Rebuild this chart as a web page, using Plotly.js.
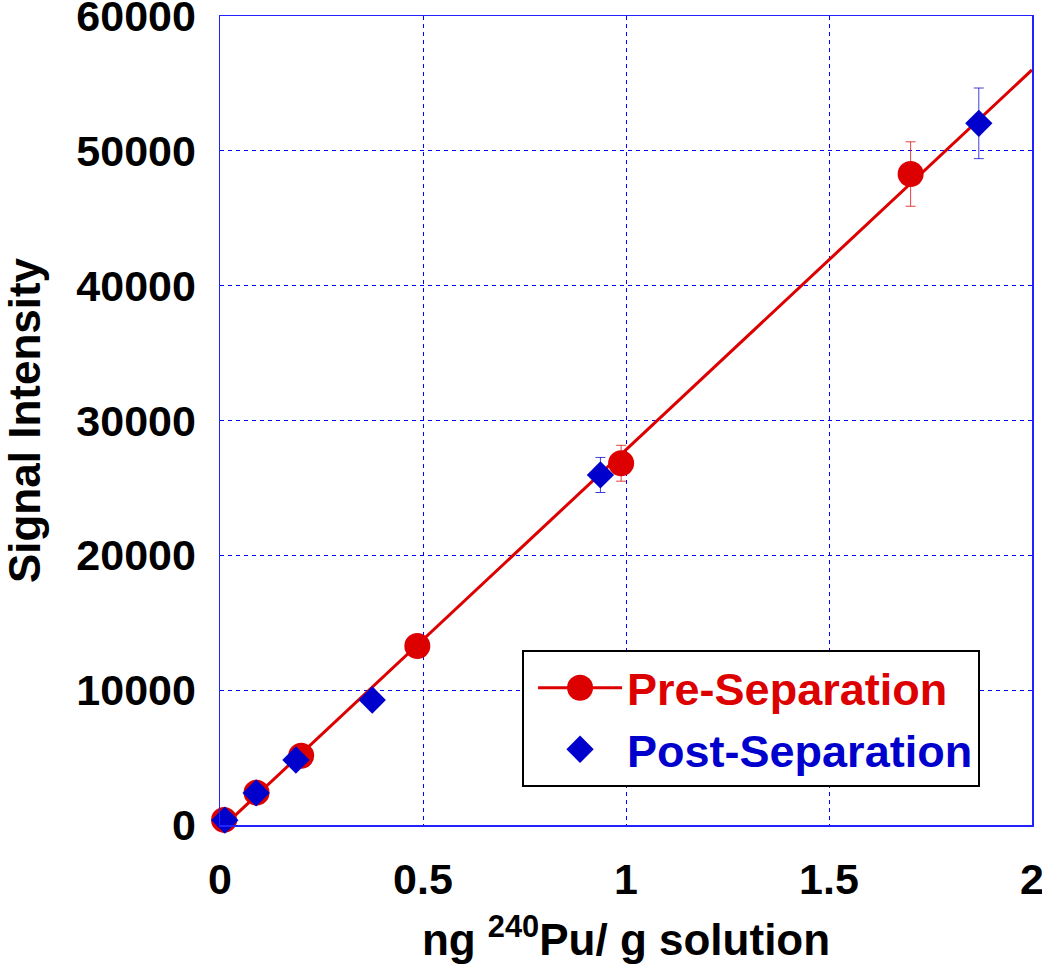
<!DOCTYPE html>
<html>
<head>
<meta charset="utf-8">
<script src="https://cdn.plot.ly/plotly-3.0.1.min.js"></script>
<style>
  html, body { margin: 0; padding: 0; background: #ffffff; }
  #chart { width: 1042px; height: 966px; }
</style>
</head>
<body>
<div id="chart"></div>
<script>
// Pre-separation standards (ng 240Pu per g solution vs. signal)
const preX = [0.010, 0.090, 0.200, 0.486, 0.988, 1.701];
const preY = [380, 2400, 5140, 13280, 26830, 48280];
const preErr = [20, 120, 260, 660, 1330, 2390];

// Post-separation samples
const postX = [0.012, 0.089, 0.187, 0.375, 0.937, 1.869];
const postY = [360, 2380, 4820, 9270, 25960, 52040];
const postErr = [20, 120, 240, 460, 1300, 2620];

// Linear calibration line through the pre-separation standards
const fitX = [0, 2];
const fitY = [-340, 56000];

const xTicks = [0, 0.5, 1, 1.5, 2];
const xTickText = ['0', '0.5', '1', '1.5', '2'];
const yTicks = [0, 10000, 20000, 30000, 40000, 50000, 60000];
const yTickText = ['0', '10000', '20000', '30000', '40000', '50000', '60000'];

const RED = '#dd0000';
const BLUE = '#0000cc';
const FONT = 'Liberation Sans, Arial, Helvetica, sans-serif';

// marker sizes used on the plot; legend symbols are scaled up to the same size
const CIRCLE_SIZE = 26;
const DIAMOND_SIZE = 21;

const traces = [
  {
    x: fitX, y: fitY, type: 'scatter', mode: 'lines',
    line: { color: RED, width: 3 },
    showlegend: false, hoverinfo: 'skip'
  },
  {
    x: preX, y: preY, type: 'scatter', mode: 'markers',
    marker: { symbol: 'circle', size: CIRCLE_SIZE, color: RED },
    error_y: { type: 'data', array: preErr, visible: true, color: 'rgba(221,0,0,0.75)', thickness: 1, width: 5 },
    cliponaxis: false, showlegend: false
  },
  {
    x: postX, y: postY, type: 'scatter', mode: 'markers',
    name: '<span style="color:#0000cc">Post-Separation</span>',
    marker: { symbol: 'diamond', size: DIAMOND_SIZE, color: BLUE },
    error_y: { type: 'data', array: postErr, visible: true, color: 'rgba(0,0,204,0.75)', thickness: 1, width: 5 },
    cliponaxis: false, showlegend: true
  },
  {
    // legend entry for the standards: line with circle
    x: [null], y: [null], type: 'scatter', mode: 'lines+markers',
    name: '<span style="color:#dd0000">Pre-Separation</span>',
    line: { color: RED, width: 3 },
    marker: { symbol: 'circle', size: CIRCLE_SIZE, color: RED },
    showlegend: true
  }
];

const layout = {
  width: 1042, height: 966,
  margin: { l: 220, r: 10, t: 16, b: 141 },
  paper_bgcolor: '#ffffff', plot_bgcolor: '#ffffff',
  font: { family: FONT, color: '#000000' },
  showlegend: true,
  legend: {
    x: 0.372, y: 0.2163, xanchor: 'left', yanchor: 'top',
    bgcolor: '#ffffff', bordercolor: '#000000', borderwidth: 2,
    font: { family: FONT, size: 45, weight: 'bold' },
    traceorder: 'reversed', itemwidth: 84, indentation: 9
  },
  xaxis: {
    range: [0, 2], tickvals: xTicks, ticktext: xTickText,
    showgrid: true, gridcolor: '#0000ff', gridwidth: 1, griddash: '4px,4px',
    showline: true, linecolor: '#2222ff', linewidth: 1.5, mirror: true,
    zeroline: false, ticks: '', ticklabelstandoff: 16, ticklabeloverflow: 'allow',
    tickfont: { family: FONT, size: 43, weight: 'bold', color: '#000000' },
    title: { text: 'ng <sup>240</sup>Pu/ g solution', standoff: 22,
             font: { family: FONT, size: 44, weight: 'bold', color: '#000000' } }
  },
  yaxis: {
    range: [0, 60000], tickvals: yTicks, ticktext: yTickText,
    showgrid: true, gridcolor: '#0000ff', gridwidth: 1, griddash: '4px,4px',
    showline: true, linecolor: '#2222ff', linewidth: 1.5, mirror: true,
    zeroline: false, ticks: '', ticklabelstandoff: 14, ticklabeloverflow: 'allow',
    tickfont: { family: FONT, size: 43, weight: 'bold', color: '#000000' },
    title: { text: 'Signal Intensity', standoff: 42,
             font: { family: FONT, size: 44, weight: 'bold', color: '#000000' } }
  }
};

Plotly.newPlot('chart', traces, layout, { displayModeBar: false, staticPlot: true }).then(function (gd) {
  // Plotly caps legend symbols at 16px; enlarge them to the plotted marker size
  gd.querySelectorAll('.legend path.scatterpts').forEach(function (p) {
    const fill = (p.style.fill || '').replace(/\s/g, '');
    const target = fill.indexOf('221,0,0') >= 0 ? CIRCLE_SIZE : DIAMOND_SIZE;
    const k = target / 16;
    const t = p.getAttribute('transform') || '';
    p.setAttribute('transform', t + ' scale(' + k + ')');
  });
});
</script>
</body>
</html>
